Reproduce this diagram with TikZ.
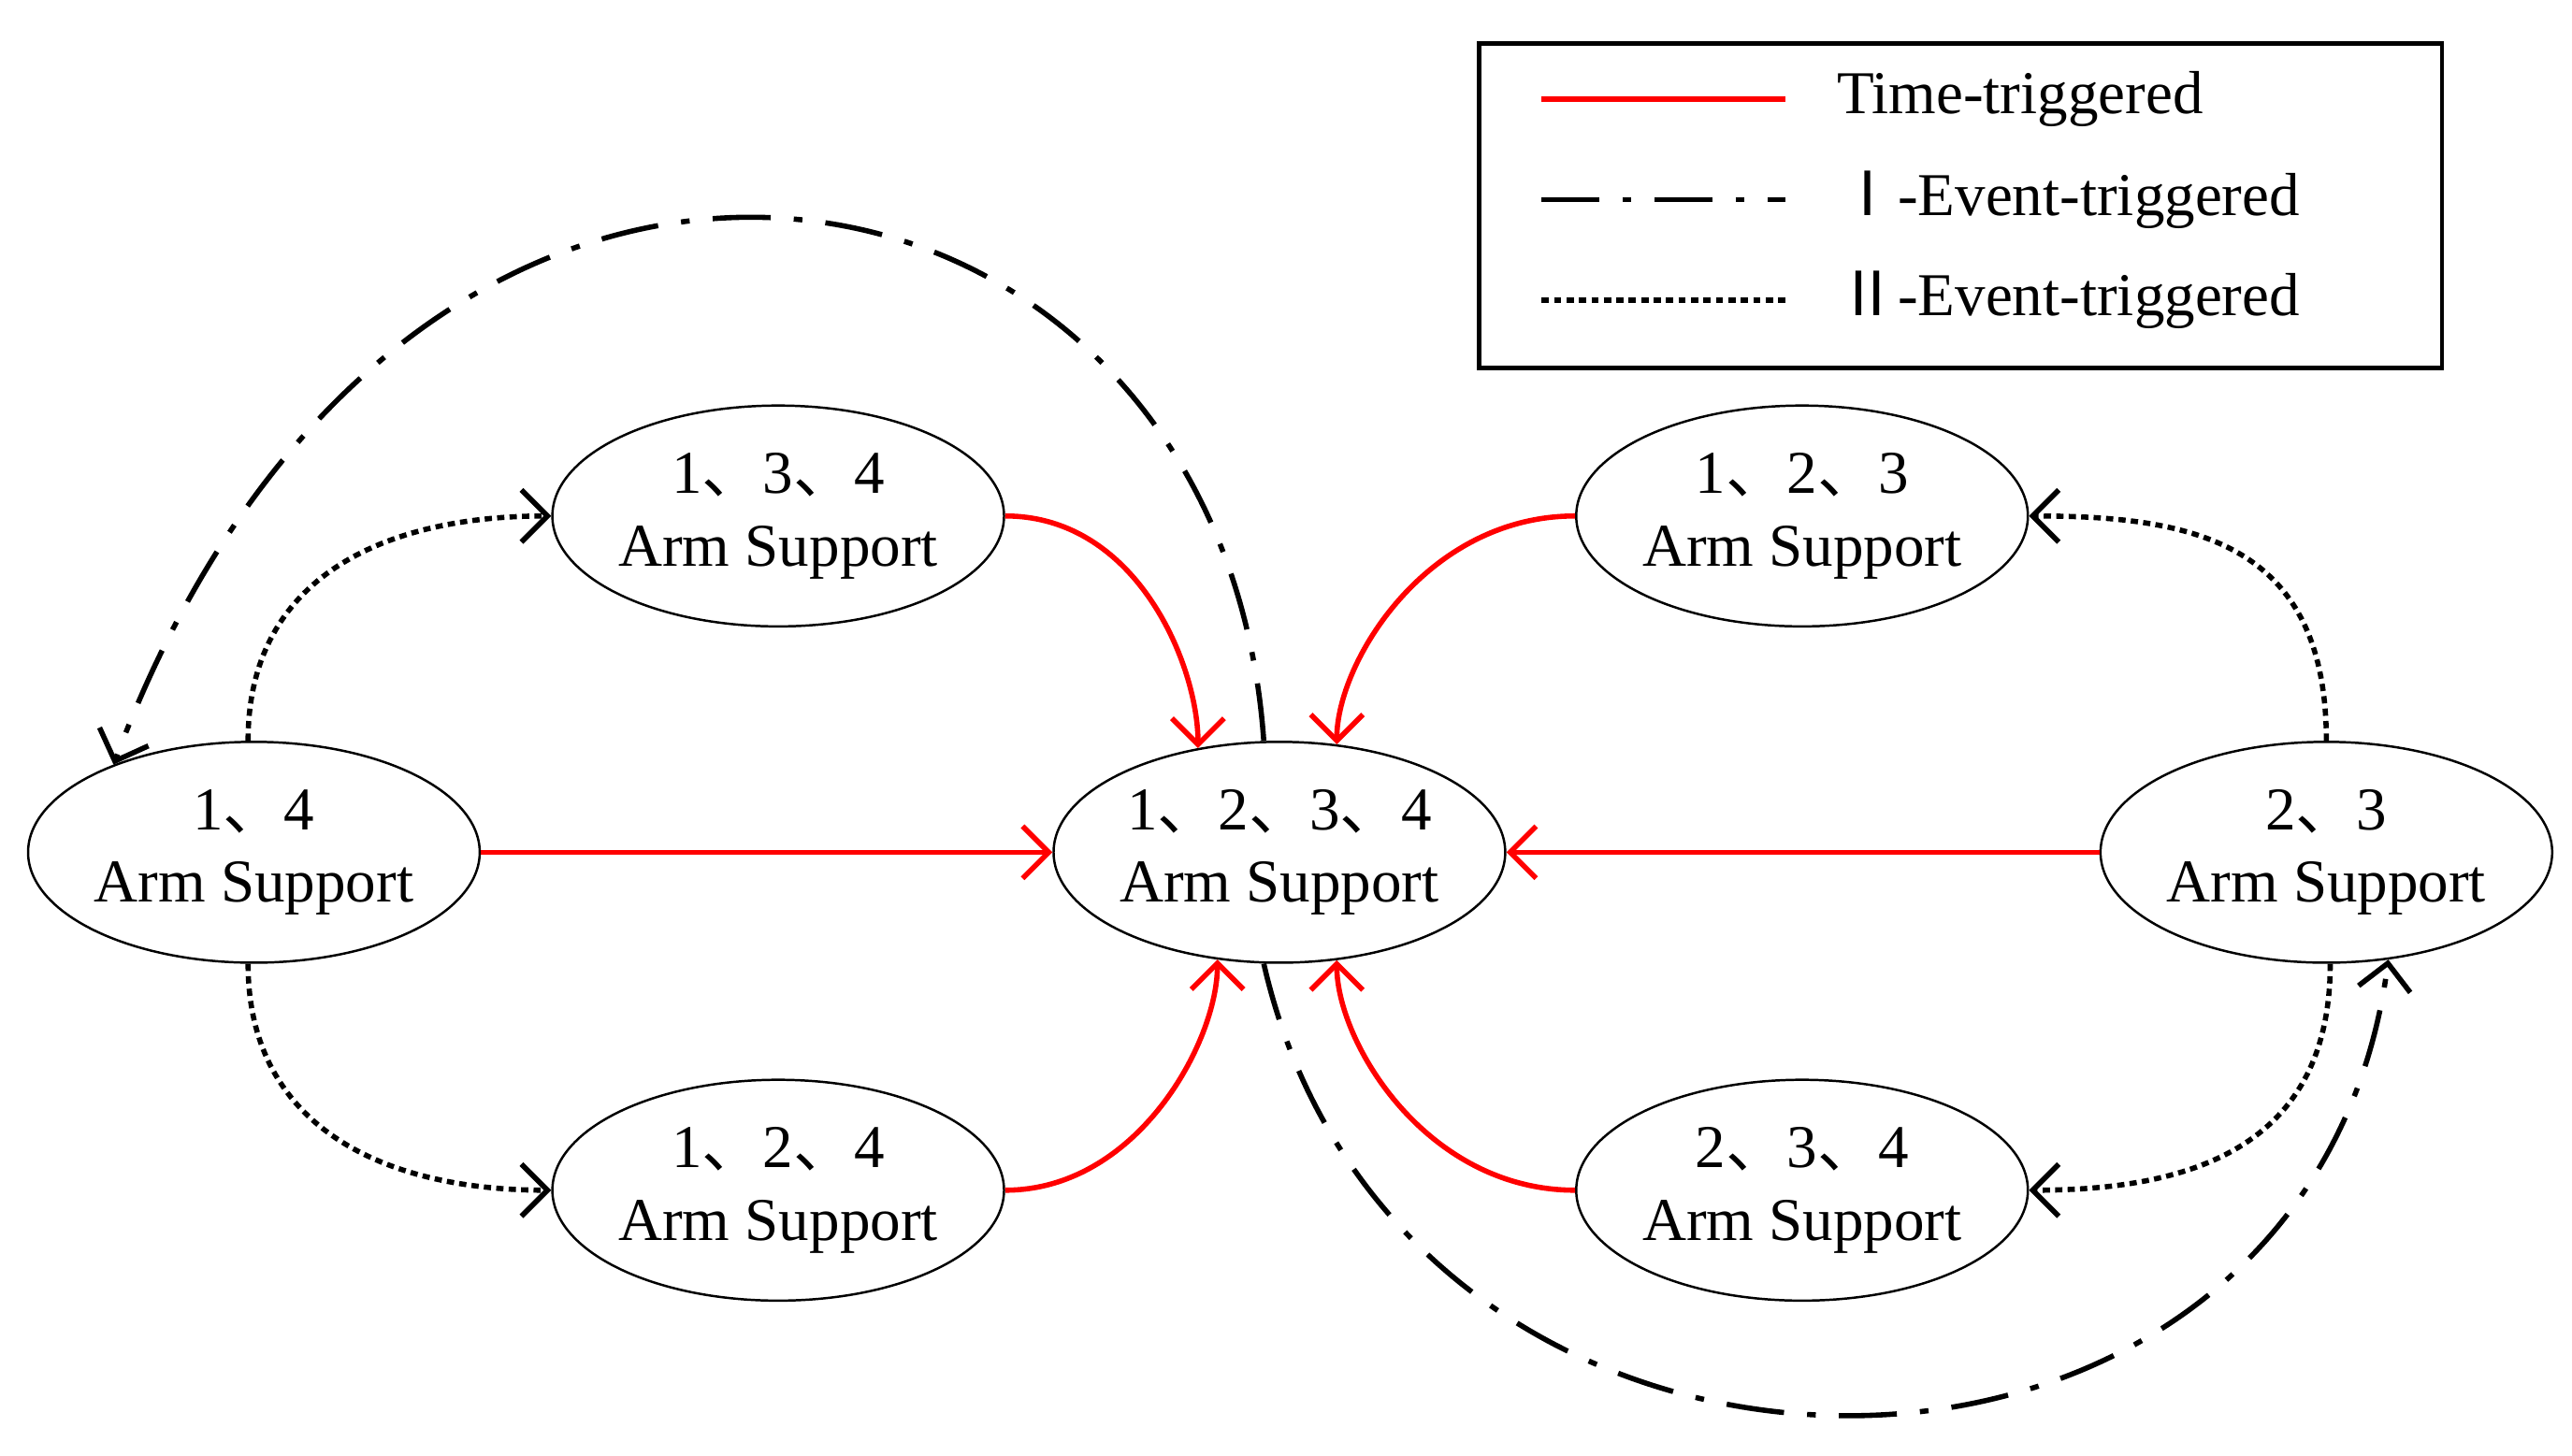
\documentclass[tikz,border=0pt]{standalone}
\usepackage{fontspec}
\setmainfont{Liberation Serif}
\newfontfamily\cjk{Noto Sans CJK SC}
\usetikzlibrary{arrows.meta,positioning,calc,shapes.geometric}
\newcommand{\dun}{{\cjk 、}}
\tikzset{%
  every support/.style={
    ellipse,
    draw,
    line width=0.8pt,
    minimum width=5.48cm,
    minimum height=2.68cm,
    inner sep=0pt,
    align=center,
    font=\fontsize{21}{25}\selectfont
  },
  time link/.style={red, line width=1.8pt, -{Straight Barb[length=9pt,width=18pt]}},
  eventI link/.style={line width=1.8pt, dash pattern=on 20pt off 8pt on 3pt off 8pt, -{Straight Barb[length=9pt,width=18pt]}},
  eventII link/.style={line width=1.8pt, dash pattern=on 2.5pt off 1.8pt, -{Straight Barb[length=9pt,width=18pt]}},
}
\begin{document}
\begin{tikzpicture}[x=0.02cm, y=-0.02cm]
\useasboundingbox (0,0) rectangle (1560,883);

% arm supports
\node [every support] (s1234) at (776,517) {1\dun 2\dun 3\dun 4\\Arm Support};
\node [every support] (s14)   at (154,517) {1\dun 4\\Arm Support};
\node [every support] (s134)  at (472,313) {1\dun 3\dun 4\\Arm Support};
\node [every support] (s124)  at (472,722) {1\dun 2\dun 4\\Arm Support};
\node [every support] (s23)   at (1411,517) {2\dun 3\\Arm Support};
\node [every support] (s123)  at (1093,313) {1\dun 2\dun 3\\Arm Support};
\node [every support] (s234)  at (1093,722) {2\dun 3\dun 4\\Arm Support};

% time-triggered
\draw [time link] (s14.east) -- (s1234.west);
\draw [time link] (s23.west) -- (s1234.east);
\draw [time link] (s134.east) .. controls +(80,0) and +(0,-50) .. (s1234.128);
\draw [time link] (s124.east) .. controls +(80,0) and +(0,50) .. (s1234.240);
\draw [time link] (s123.west) .. controls +(-90,0) and +(0,-50) .. (s1234.62);
\draw [time link] (s234.west) .. controls +(-90,0) and +(0,50) .. (s1234.298);

% II-event-triggered
\draw [eventII link] (s14.93) .. controls +(0,-100) and +(-100,0) .. (s134.west);
\draw [eventII link] (s14.267) .. controls +(0,100) and +(-100,0) .. (s124.west);
\draw [eventII link] (s23.north) .. controls +(0,-120) and +(100,0) .. (s123.east);
\draw [eventII link] (s23.272) .. controls +(0,110) and +(100,0) .. (s234.east);

% I-event-triggered
\draw [eventI link] (s1234.98) .. controls (740,70) and (250,-20) .. (s14.148);
\draw [eventI link] (s1234.262) .. controls (850,950) and (1400,950) .. (s23.300);

% legend
\node [draw, line width=1.5pt, minimum width=11.68cm, minimum height=3.94cm, anchor=north west] (legend) at (896,25) {};
\coordinate (a1) at (935,60);   \coordinate (b1) at (1083,60);
\coordinate (a2) at (935,121);  \coordinate (b2) at (1083,121);
\coordinate (a3) at (935,182);  \coordinate (b3) at (1083,182);
\draw [red, line width=1.8pt] (a1) -- (b1);
\draw [line width=1.8pt, dash pattern=on 20pt off 8pt on 3pt off 8pt] (a2) -- (b2);
\draw [line width=1.8pt, dash pattern=on 2.5pt off 1.8pt] (a3) -- (b3);
\node [right=0.5cm of b1, font=\fontsize{21}{25}\selectfont] (t1) {Time-triggered};
\node [right=0.5cm of b2, font=\fontsize{21}{25}\selectfont] (t2) {{\cjk Ⅰ}-Event-triggered};
\node [right=0.5cm of b3, font=\fontsize{21}{25}\selectfont] (t3) {{\cjk Ⅱ}-Event-triggered};
\end{tikzpicture}
\end{document}
